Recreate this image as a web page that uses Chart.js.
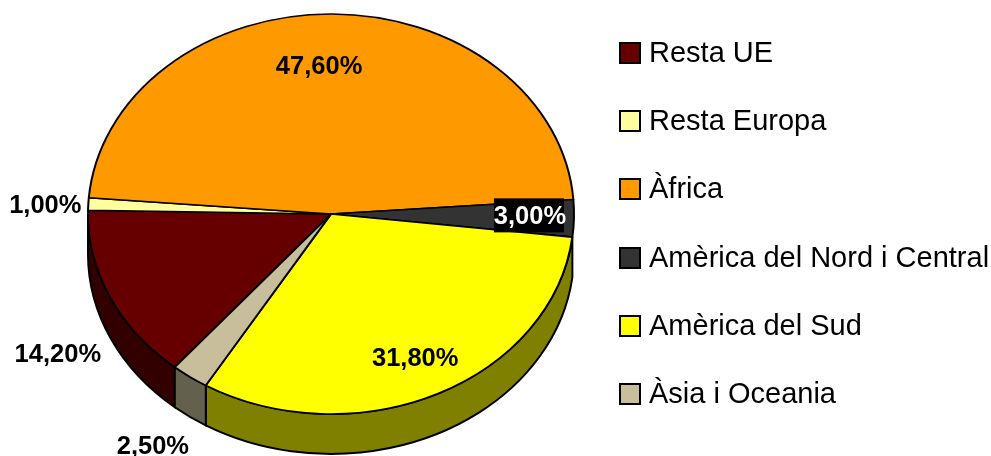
<!DOCTYPE html>
<html>
<head>
  <meta charset="utf-8">
  <title>pie</title>
  <script src="https://cdn.jsdelivr.net/npm/chart.js@4/dist/chart.umd.min.js"></script>
  <style>
    html, body { margin: 0; background: #fff; }
    #wrap { position: relative; width: 991px; height: 456px; overflow: hidden; }
    #legend { position: absolute; left: 619px; top: 18px; font: 29px "Liberation Sans", Arial, sans-serif; color: #000; }
    #legend div { height: 68.2px; line-height: 68.2px; white-space: nowrap; }
    #legend i { display: inline-block; width: 18px; height: 18px; border: 2px solid #000; margin-right: 8px; vertical-align: -2px; }
  </style>
</head>
<body>
  <div id="wrap">
    <canvas id="chart" width="991" height="456"></canvas>
    <div id="legend"></div>
  </div>
  <script>
  const labels = ['Resta UE', 'Resta Europa', 'Àfrica', 'Amèrica del Nord i Central', 'Amèrica del Sud', 'Àsia i Oceania'];
  const values = [14.2, 1.0, 47.6, 3.0, 31.8, 2.5];
  const colors = ['#660000', '#ffffa0', '#ff9900', '#333333', '#ffff00', '#c8be9b'];
  const sideColors = ['#330000', '#808050', '#804c00', '#1a1a1a', '#808000', '#64604e'];
  // label nudges from the middle of each slice's outer edge
  const labelNudge = [[-52, 56], [-43, 0], [-13, 51], [-44, -3], [-23, -37], [-37, 68]];

  const radiusX = 243, radiusY = 200, depth = 40;
  const squash = radiusY / radiusX;

  // legend
  const legend = document.getElementById('legend');
  labels.forEach(function(name, i){
    const row = document.createElement('div');
    const box = document.createElement('i');
    box.style.background = colors[i];
    row.appendChild(box);
    row.appendChild(document.createTextNode(name));
    legend.appendChild(row);
  });

  // flatten the pie and draw the side wall under it
  const tilt = {
    id: 'tilt',
    beforeDatasetsDraw(chart){
      const ctx = chart.ctx;
      const arcs = chart.getDatasetMeta(0).data;
      arcs.forEach(function(arc, i){
        const s = Math.max(arc.startAngle % (2 * Math.PI), 0);
        const e = Math.min(s + (arc.endAngle - arc.startAngle), Math.PI);
        if (e <= s) return;
        ctx.beginPath();
        ctx.ellipse(arc.x, arc.y, radiusX, radiusY, 0, s, e);
        ctx.ellipse(arc.x, arc.y + depth, radiusX, radiusY, 0, e, s, true);
        ctx.closePath();
        ctx.fillStyle = sideColors[i];
        ctx.fill();
        ctx.lineWidth = 2;
        ctx.strokeStyle = '#000';
        ctx.stroke();
      });
      const a = arcs[0];
      ctx.save();
      ctx.translate(a.x, a.y);
      ctx.scale(1, squash);
      ctx.translate(-a.x, -a.y);
    },
    afterDatasetsDraw(chart){
      chart.ctx.restore();
    },
    afterDraw(chart){
      const ctx = chart.ctx;
      ctx.font = 'bold 25.5px "Liberation Sans", Arial, sans-serif';
      ctx.textAlign = 'center';
      ctx.textBaseline = 'middle';
      chart.getDatasetMeta(0).data.forEach(function(arc, i){
        const mid = (arc.startAngle + arc.endAngle) / 2;
        const x = arc.x + radiusX * Math.cos(mid) + labelNudge[i][0];
        const y = arc.y + radiusY * Math.sin(mid) + labelNudge[i][1];
        const text = values[i].toFixed(2).replace('.', ',') + '%';
        // the 3,00% label sits on a black box
        if (i === 3) {
          ctx.fillStyle = '#000';
          ctx.fillRect(x - 36, y - 17, 70, 34);
          ctx.fillStyle = '#fff';
        } else {
          ctx.fillStyle = '#000';
        }
        ctx.fillText(text, x, y + 2);
      });
    }
  };

  new Chart(document.getElementById('chart'), {
    type: 'pie',
    data: {
      labels: labels,
      datasets: [{
        data: values,
        backgroundColor: colors,
        borderColor: '#000',
        borderWidth: 2,
        borderJoinStyle: 'round',
        clip: false,
      }],
    },
    options: {
      responsive: false,
      animation: false,
      rotation: 220,
      radius: radiusX,
      layout: { padding: { right: 329, bottom: 28 } },
      plugins: {
        legend: { display: false },
        tooltip: { enabled: false },
      },
    },
    plugins: [tilt],
  });
  </script>
</body>
</html>
